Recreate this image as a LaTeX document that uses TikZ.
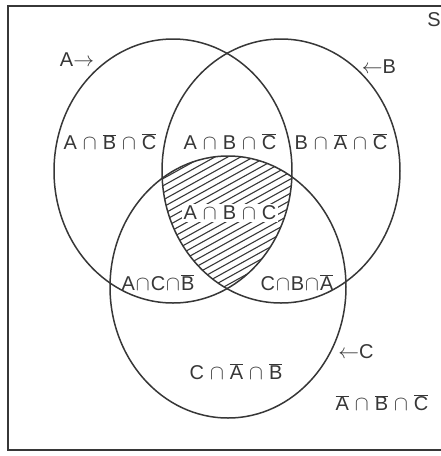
\documentclass[tikz,border=0pt]{standalone}
\usepackage{fontspec}
\setmainfont{Liberation Sans}
\begin{document}
\definecolor{ink}{RGB}{55,55,55}
\newcommand\ob[1]{\ensuremath{\overline{\mbox{#1}}}}
\newcommand\ct{\hspace{6pt}\ensuremath{\cap}\hspace{6pt}}
\newcommand\cs{\hspace{1pt}\ensuremath{\cap}\hspace{1pt}}
\begin{tikzpicture}[x=1pt,y=-1pt,
  line/.style={draw=ink,line width=1.5pt},
  hatchline/.style={draw=ink,line width=1.1pt},
  lbl/.style={text=ink,inner sep=0pt,font=\fontsize{20}{22}\selectfont}]
\useasboundingbox (0,0) rectangle (441,456);
% universe frame
\draw[line] (8,6) rectangle (447,450);
% hatching of A cap B cap C
\begin{scope}
  \clip (173,171) ellipse [x radius=119pt, y radius=132pt];
  \clip (281,171) ellipse [x radius=119pt, y radius=132pt];
  \clip (228,287) ellipse [x radius=118pt, y radius=131pt];
  \foreach \c in {100,107.1,...,380}
    \draw[hatchline] (140,{\c+48.8}) -- (320,{\c-50.9});
\end{scope}
\node[lbl,fill=white,inner sep=1.5pt] (abc) at (230,213) {A\ct B\ct C};
% sets
\draw[line] (173,171) ellipse [x radius=119pt, y radius=132pt];
\draw[line] (281,171) ellipse [x radius=119pt, y radius=132pt];
\draw[line] (228,287) ellipse [x radius=118pt, y radius=131pt];
% labels
\node[lbl] (s) at (434,20) {S};
\node[lbl] (la) at (77,60) {A$\rightarrow$};
\node[lbl] (lb) at (379,67) {$\leftarrow$B};
\node[lbl] (lc) at (356,352) {$\leftarrow$C};
\node[lbl] (r1) at (110,142) {A\ct\ob{B}\ct\ob{C}};
\node[lbl] (r2) at (230,142) {A\ct B\ct\ob{C}};
\node[lbl] (r3) at (341,142) {B\ct\ob{A}\ct\ob{C}};
\node[lbl] (r4) at (158,283) {A\cs C\cs\ob{B}};
\node[lbl] (r5) at (297,283) {C\cs B\cs\ob{A}};
\node[lbl] (r6) at (236,372) {C\ct\ob{A}\ct\ob{B}};
\node[lbl] (r7) at (382,403) {\ob{A}\ct\ob{B}\ct\ob{C}};
\end{tikzpicture}
\end{document}
